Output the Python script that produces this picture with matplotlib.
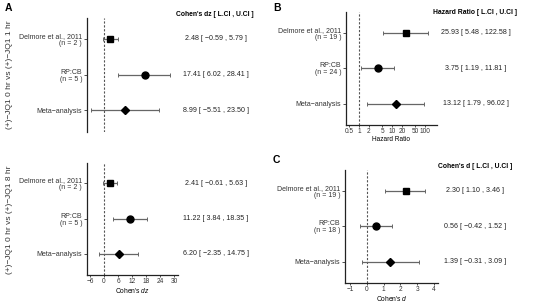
import numpy as np
import matplotlib
matplotlib.use("Agg")
import matplotlib.pyplot as plt

plt.rcParams['font.family'] = ['Liberation Sans', 'DejaVu Sans']
plt.rcParams['mathtext.fontset'] = 'custom'
plt.rcParams['mathtext.it'] = 'Liberation Sans:italic'
plt.rcParams['mathtext.rm'] = 'Liberation Sans'
NARROW = ['Liberation Sans Narrow', 'Liberation Sans', 'DejaVu Sans']

W, H = 538, 304

# --- data ---
studies = ["Delmore et al., 2011", "RP:CB", "Meta\u2212analysis"]
markers = ["s", "o", "D"]

n_a = [2, 5]
est_a1 = [2.48, 17.41, 8.99]
lo_a1 = [-0.59, 6.02, -5.51]
hi_a1 = [5.79, 28.41, 23.50]

est_a8 = [2.41, 11.22, 6.20]
lo_a8 = [-0.61, 3.84, -2.35]
hi_a8 = [5.63, 18.35, 14.75]

n_b = [19, 24]
est_b = [25.93, 3.75, 13.12]
lo_b = [5.48, 1.19, 1.79]
hi_b = [122.58, 11.81, 96.02]

n_c = [19, 18]
est_c = [2.30, 0.56, 1.39]
lo_c = [1.10, -0.42, -0.31]
hi_c = [3.46, 1.52, 3.09]

ticks_a = [-6, 0, 6, 12, 18, 24, 30]
ticks_b = [0.5, 1, 2, 5, 10, 20, 50, 100]
tick_labels_b = ["0.5", "1", "2", "5", "10", "20", "50", "100"]
ticks_c = [-1, 0, 1, 2, 3, 4]


def box(l, t, r, b):
    return [l / W, 1 - b / H, (r - l) / W, (b - t) / H]


def fmt(v):
    return f"{v:.2f}".replace("-", "\u2212")


def forest(ax, est, lo, hi, n, ref, xlim, text_x, log=False, show_x=True):
    rows = np.arange(1, len(est) + 1)
    for r, e, l, h, m in zip(rows, est, lo, hi, markers):
        ax.errorbar([e], [r], xerr=[[e - l], [h - e]], fmt="none",
                    ecolor="#666666", elinewidth=0.9, capsize=1.5,
                    capthick=0.7, zorder=2)
        ax.plot([e], [r], marker=m, color="black",
                ms=5.0 if m == "o" else 4.2, ls="none", zorder=3)
        ax.annotate(f"{fmt(e)} [ {fmt(l)} , {fmt(h)} ]",
                    xy=(text_x / W, r), xycoords=("figure fraction", "data"),
                    ha="center", va="center", fontsize=5.1, color="#222222",
                    annotation_clip=False)
    ax.axvline(ref, color="#555555", ls=(0, (2, 1.5)), lw=0.8, zorder=1)
    if log:
        ax.set_xscale("log")
    ax.set_xlim(*xlim)
    ax.set_ylim(3.6, 0.42)
    labels = [f"{s}\n(n = {k} )" for s, k in zip(studies[:2], n)] + [studies[2]]
    ax.set_yticks(rows)
    ax.set_yticklabels(labels, fontsize=5.0, color="#333333", linespacing=1.0,
                       family=NARROW)
    ax.tick_params(axis="y", length=2, width=0.6, pad=1.5, color="#333333")
    for s in ["top", "right"]:
        ax.spines[s].set_visible(False)
    ax.spines["left"].set_linewidth(0.9)
    ax.spines["left"].set_color("#222222")
    if show_x:
        ax.spines["bottom"].set_linewidth(0.9)
        ax.spines["bottom"].set_color("#222222")
        ax.tick_params(axis="x", length=1.5, width=0.6, pad=0.8,
                       labelsize=4.7, labelcolor="#333333", color="#333333")
    else:
        ax.spines["bottom"].set_visible(False)
        ax.set_xticks([])


fig = plt.figure(figsize=(W / 100, H / 100), dpi=100)

# panel A, top
ax1 = fig.add_axes(box(87, 18, 178, 132))
forest(ax1, est_a1, lo_a1, hi_a1, n_a, 0, (-7.3, 31.7), 216, show_x=False)
ax1.set_ylabel("(+)\u2212JQ1 0 hr vs (+)\u2212JQ1 1 hr", fontsize=6.0,
               color="#333333")
ax1.yaxis.set_label_coords(13 / W, 1 - 75 / H, transform=fig.transFigure)

# panel A, bottom
ax2 = fig.add_axes(box(87, 163, 178, 275))
forest(ax2, est_a8, lo_a8, hi_a8, n_a, 0, (-7.3, 31.7), 216)
ax2.set_xticks(ticks_a)
ax2.set_xlabel("Cohen's $\\it{dz}$", fontsize=4.8, labelpad=0.8)
ax2.set_ylabel("(+)\u2212JQ1 0 hr vs (+)\u2212JQ1 8 hr", fontsize=6.0,
               color="#333333")
ax2.yaxis.set_label_coords(13 / W, 1 - 220 / H, transform=fig.transFigure)

# panel B
ax3 = fig.add_axes(box(346, 12, 437, 125))
forest(ax3, est_b, lo_b, hi_b, n_b, 1, (0.404, 230), 476, log=True)
ax3.set_xticks(ticks_b)
ax3.set_xticklabels(tick_labels_b)
ax3.xaxis.set_minor_locator(matplotlib.ticker.NullLocator())
ax3.set_xlabel("Hazard Ratio", fontsize=4.7, labelpad=0.8)

# panel C
ax4 = fig.add_axes(box(345, 170, 438, 283))
forest(ax4, est_c, lo_c, hi_c, n_c, 0, (-1.30, 4.23), 475)
ax4.set_xticks(ticks_c)
ax4.set_xticklabels([str(t).replace("-", "\u2212") for t in ticks_c])
ax4.set_xlabel("Cohen's $\\it{d}$", fontsize=4.8, labelpad=0.8)

# headers and panel letters
fig.text(215 / W, 1 - 15 / H, "Cohen's dz [ L.CI , U.CI ]", fontsize=4.9,
         fontweight="bold", ha="center", va="center")
fig.text(475 / W, 1 - 12 / H, "Hazard Ratio [ L.CI , U.CI ]", fontsize=4.9,
         fontweight="bold", ha="center", va="center")
fig.text(475 / W, 1 - 167 / H, "Cohen's d [ L.CI , U.CI ]", fontsize=4.9,
         fontweight="bold", ha="center", va="center")
for lab, x, y in [("A", 5, 8), ("B", 273, 8), ("C", 273, 160)]:
    fig.text(x / W, 1 - y / H, lab, fontsize=7.5, fontweight="bold",
             ha="left", va="center")

fig.savefig("out.png", dpi=100)
